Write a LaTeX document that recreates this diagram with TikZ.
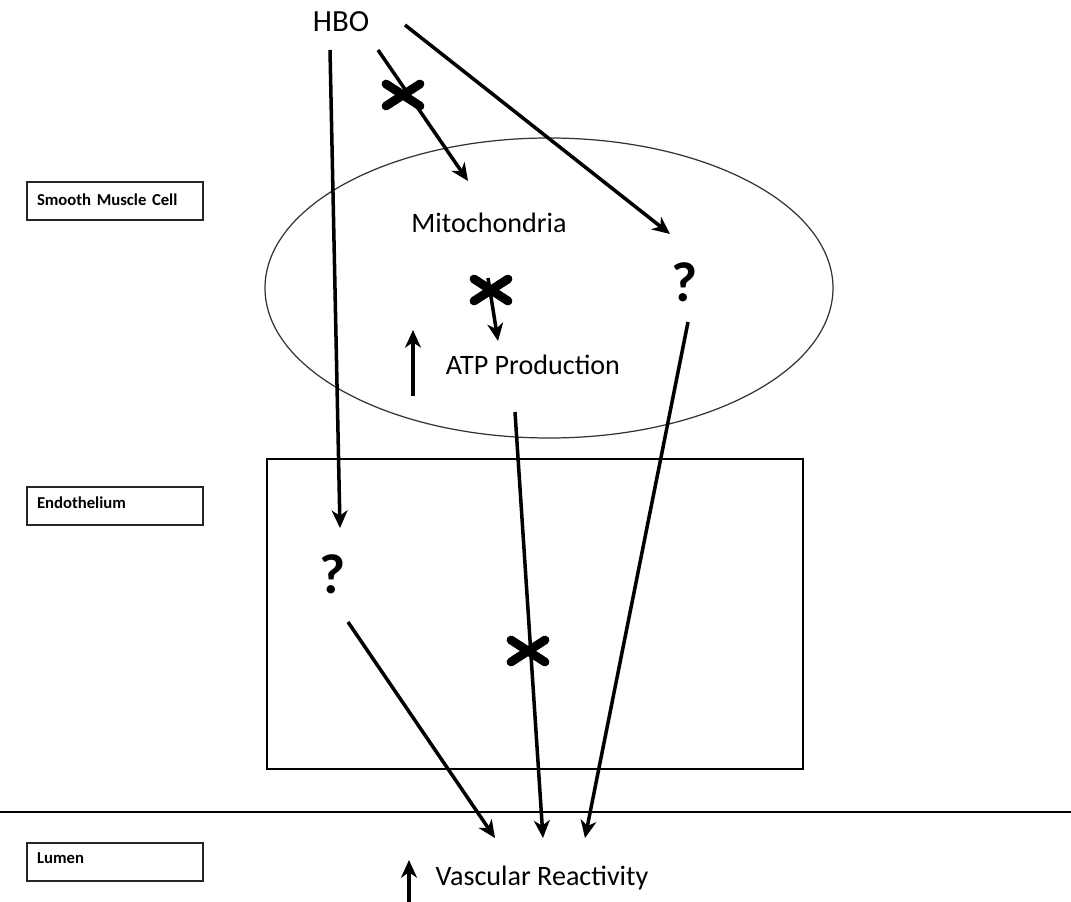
\documentclass[tikz,border=0pt]{standalone}
\usepackage{fontspec}
\setmainfont{Carlito}
\usetikzlibrary{arrows.meta,positioning}

\tikzset{
  flow/.style={line width=2pt,-{Stealth[length=10pt,width=9pt,inset=3pt]}},
  block/.style={line width=5pt,line cap=round},
  lbl/.style={font=\fontsize{16}{19}\selectfont,inner sep=0pt},
  qmark/.style={font=\fontsize{32}{36}\selectfont\bfseries,inner sep=0pt},
  layer/.style={draw=black!85,line width=1.3pt,minimum width=3.52cm,minimum height=0.76cm,
    inner xsep=0.2cm,text width=3.12cm,align=left,font=\fontsize{9.5}{11}\selectfont\bfseries}
}

\begin{document}
\begin{tikzpicture}[x=0.02cm,y=-0.02cm]
  \useasboundingbox (0,0) rectangle (1071,902);

  % compartments
  \draw[line width=0.7pt,black!80] (549,288) ellipse [x radius=284, y radius=150];
  \draw[line width=0.7pt] (267,459) rectangle (803,769);
  \draw[line width=0.7pt] (0,812) -- (1071,812);

  \node[layer] (smc) at (115,201) {\raisebox{2pt}{Smooth Muscle Cell}};
  \node[layer] (endo) at (115,506) {\raisebox{4pt}{Endothelium}};
  \node[layer] (lumen) at (115,862) {\raisebox{4pt}{Lumen}};

  % labels
  \node[lbl,font=\fontsize{17.5}{20}\selectfont] (hbo) at (341,22) {HBO};
  \node[lbl] (mito) at (489,223) {Mitochondria};
  \node[lbl] (atp) at (533,365) {ATP Production};
  \node[lbl] (vr) at (542,878) {Vascular Reactivity};
  \node[qmark] (qright) at (685,282) {?};
  \node[qmark] (qleft) at (333,574) {?};

  % arrow ends
  \coordinate (hboL) at (330,50);
  \coordinate (hboM) at (378,50);
  \coordinate (hboR) at (405,25);
  \coordinate (mitoIn) at (468,181);
  \coordinate (qrIn) at (670,234);
  \coordinate (qlIn) at (340,528);
  \coordinate (mitoOut) at (488,278);
  \coordinate (atpIn) at (498,341);
  \coordinate (atpOut) at (515,412);
  \coordinate (qrOut) at (688,322);
  \coordinate (qlOut) at (348,622);
  \coordinate (vrL) at (495,838);
  \coordinate (vrM) at (543,838);
  \coordinate (vrR) at (585,838);
  \coordinate (upA) at (413,396);
  \coordinate (upAtip) at (413,330);
  \coordinate (upV) at (409,902);
  \coordinate (upVtip) at (409,860);

  \draw[flow] (hboL) -- (qlIn);
  \draw[flow] (hboM) -- (mitoIn);
  \draw[flow] (hboR) -- (qrIn);
  \draw[flow] (mitoOut) -- (atpIn);
  \draw[flow] (atpOut) -- (vrM);
  \draw[flow] (qrOut) -- (vrR);
  \draw[flow] (qlOut) -- (vrL);
  \draw[flow] (upA) -- (upAtip);
  \draw[flow] (upV) -- (upVtip);

  % blocked steps
  \foreach \x/\y in {403/95, 491/290, 528/651} {
    \draw[block] (\x-17,\y-11) -- (\x+17,\y+11);
    \draw[block] (\x-17,\y+11) -- (\x+17,\y-11);
  }
\end{tikzpicture}
\end{document}
